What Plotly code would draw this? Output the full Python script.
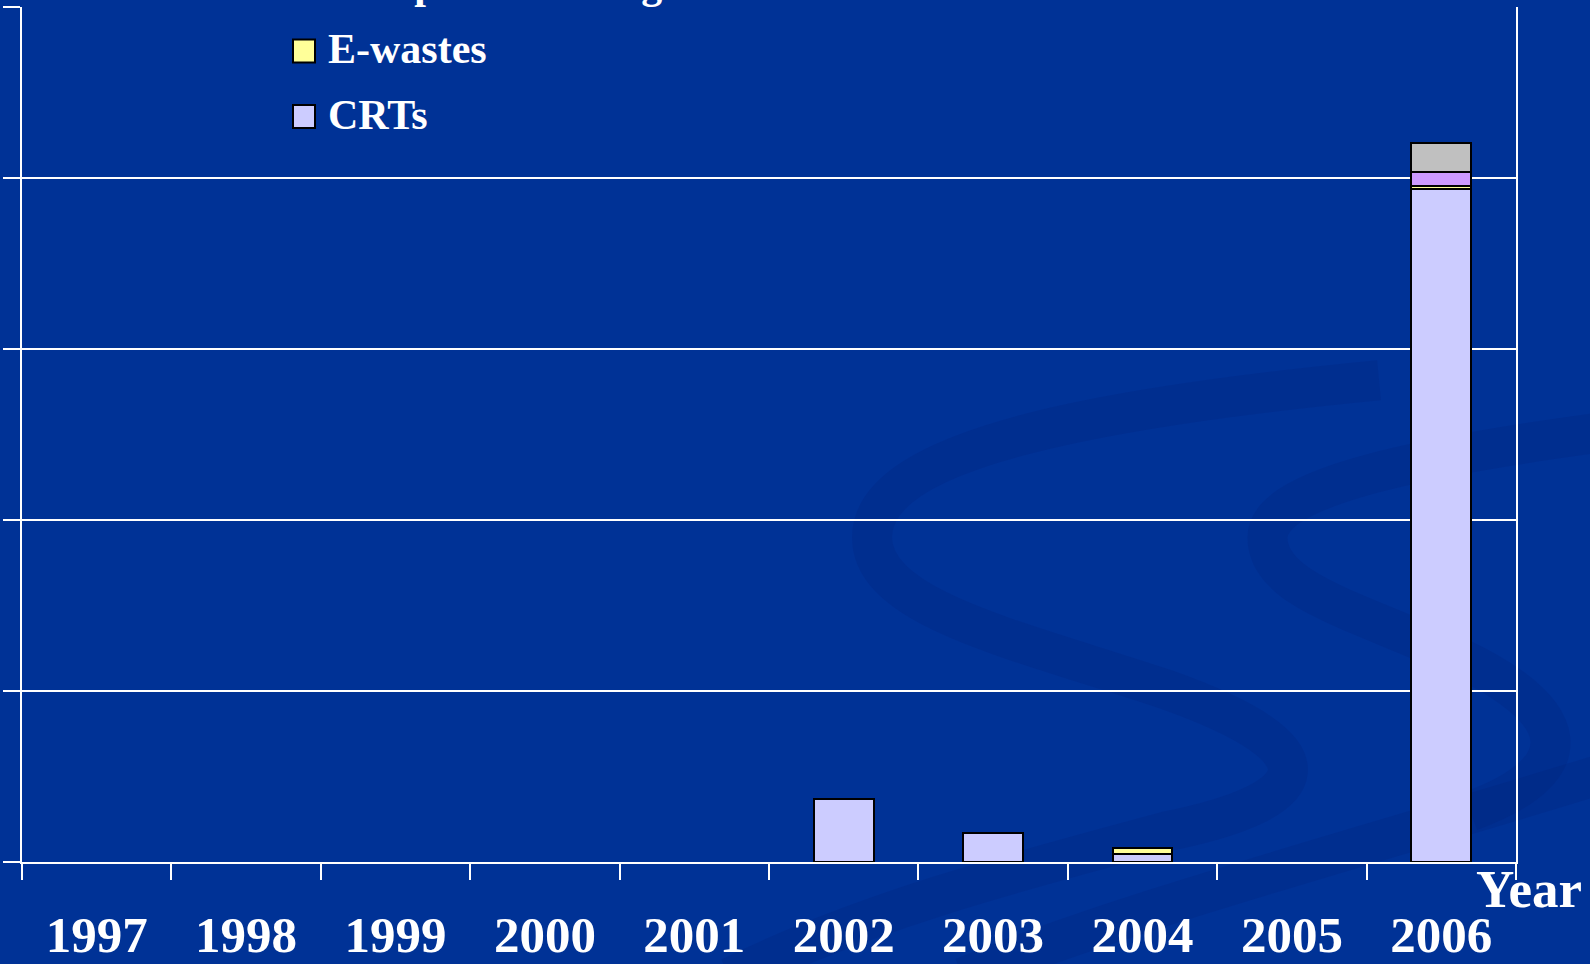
import plotly.graph_objects as go

# ---- data -------------------------------------------------------------
years = ["1997", "1998", "1999", "2000", "2001", "2002", "2003", "2004", "2005", "2006"]
crts = [None, None, None, None, None, 368, 172, 47, None, 3936]
ewastes = [None, None, None, None, None, None, None, 35, None, 20]
housings = [None, None, None, None, None, None, None, None, None, 80]
others = [None, None, None, None, None, None, None, None, None, 168]

series_names = ["CRTs", "E-wastes", "Computer housings", "Others"]
series_values = [crts, ewastes, housings, others]
series_colors = ["#CCCCFF", "#FFFF99", "#CC99FF", "#C0C0C0"]

x_title = "Year"

# ---- geometry helpers (pixels -> paper) --------------------------------
W, H = 1590, 964
L, R, T, B = 22, 74, 7, 102
PW, PH = W - L - R, H - T - B


def px(x):
    return (x - L) / PW


def py(y):
    return (H - B - y) / PH


BG = "rgb(0,50,150)"
FONT = "Liberation Serif"

fig = go.Figure()
for name, vals, col in zip(series_names, series_values, series_colors):
    fig.add_trace(go.Bar(
        x=years, y=vals, name=name,
        marker=dict(color=col, line=dict(color="black", width=2)),
        showlegend=False,
    ))

# ---- decorative background swirl --------------------------------------
def path_from(points):
    s = f"M {px(points[0][0])},{py(points[0][1])}"
    rest = points[1:]
    for i in range(0, len(rest), 3):
        (a, b), (c, d), (e, f) = rest[i], rest[i + 1], rest[i + 2]
        s += f" C {px(a)},{py(b)} {px(c)},{py(d)} {px(e)},{py(f)}"
    return s


k = 1.014
swirls = [
    [(1360, 375), (1100, 400), (860, 440), (860, 530), (860, 600), (1000, 630), (1150, 680),
     (1320, 740), (1300, 790), (1150, 820), (1000, 860), (850, 900), (720, 964)],
    [(1590, 425), (1400, 450), (1250, 480), (1250, 530), (1250, 580), (1330, 600), (1420, 640),
     (1560, 700), (1560, 760), (1450, 800)],
    [(1590, 760), (1400, 820), (1100, 900), (950, 964)],
]
shapes = []
for sw in swirls:
    pts = [(a * k, b * k) for a, b in sw]
    shapes.append(dict(type="path", xref="paper", yref="paper", path=path_from(pts),
                       line=dict(color="rgba(0,28,105,0.15)", width=40), layer="below"))

# ---- legend (manual, cropped at the top like the source) --------------
shapes.append(dict(type="rect", xref="paper", yref="paper",
                   x0=px(243), x1=px(1150), y0=py(16), y1=py(-5),
                   fillcolor=BG, line=dict(width=0), layer="above"))

annotations = []
row_y = {"CRTs": 114.5, "E-wastes": 49, "Computer housings": -16.5}
for name, col in zip(series_names, series_colors):
    if name not in row_y:
        continue
    yc = row_y[name]
    shapes.append(dict(type="rect", xref="paper", yref="paper",
                       x0=px(293), x1=px(315), y0=py(yc + 13.5), y1=py(yc - 9.5),
                       fillcolor=col, line=dict(color="black", width=2), layer="above"))
    annotations.append(dict(text=name, xref="paper", yref="paper", x=px(326), y=py(yc),
                            xanchor="left", yanchor="middle", showarrow=False,
                            font=dict(family=FONT, size=42, color="white", weight="bold")))

annotations.append(dict(text=x_title, xref="paper", yref="paper", x=px(1529), y=py(889),
                        xanchor="center", yanchor="middle", showarrow=False,
                        font=dict(family=FONT, size=53, color="white", weight="bold")))

fig.update_layout(
    width=W, height=H,
    margin=dict(l=L, r=R, t=T, b=B, autoexpand=False),
    paper_bgcolor=BG, plot_bgcolor="rgba(0,0,0,0)",
    barmode="stack", bargap=0.6,
    showlegend=False,
    shapes=shapes, annotations=annotations,
    font=dict(family=FONT, color="white"),
)
fig.update_xaxes(
    type="category", tickson="boundaries", ticks="outside", ticklen=16,
    tickcolor="white", tickwidth=1.5, showline=True, linecolor="white", linewidth=2,
    showgrid=False, ticklabelstandoff=27,
    tickfont=dict(family=FONT, size=51, color="white", weight="bold"),
)
fig.update_yaxes(
    range=[0, 5000], dtick=1000, showticklabels=False, ticks="outside", ticklen=17,
    tickcolor="white", tickwidth=1.5, showline=True, linecolor="white", linewidth=2,
    mirror=True, showgrid=True, gridcolor="white", gridwidth=1.5, zeroline=False,
)

fig.write_html("out.html", config={"displayModeBar": False},
               post_script="document.body.style.margin='0';document.body.style.background='" + BG + "';")
